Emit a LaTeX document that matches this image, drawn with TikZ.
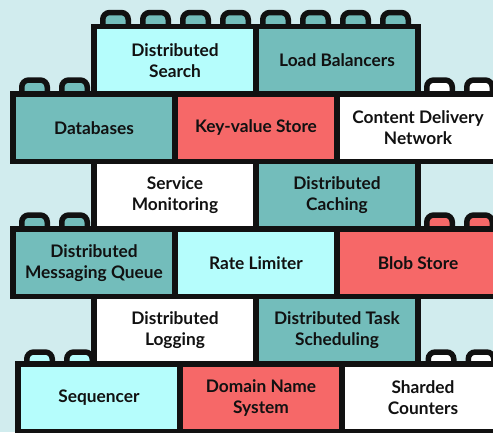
\documentclass[tikz,border=0pt]{standalone}
\usepackage{fontspec}
\setmainfont{Lato}
\definecolor{bg}{HTML}{D1ECEE}
\definecolor{ink}{HTML}{111111}
\definecolor{teal}{HTML}{73BDBB}
\definecolor{aqua}{HTML}{B5FDFC}
\definecolor{coral}{HTML}{F66868}
\begin{document}
\begin{tikzpicture}[x=1pt, y=-1pt,
  brick/.style={draw=ink, line width=5.5pt, minimum width=162pt, minimum height=67.5pt,
    inner sep=0pt, align=center, text=ink,
    font=\bfseries\fontsize{17.3}{21}\selectfont},
  stud/.style={draw=ink, line width=5.5pt, rounded corners=7pt}]
\clip (0,0) rectangle (493,432);
\fill[bg] (0,0) rectangle (493,432);

% studs on top of every brick row (drawn first, bricks cover their feet)
\foreach \x/\t/\h/\c in {
  115.5/26.5/14/teal, 155.5/26.5/14/teal, 195.5/26.5/14/teal, 235.5/26.5/14/teal,
  275.5/26.5/14/teal, 315.5/26.5/14/teal, 355.5/26.5/14/teal, 395.5/26.5/14/teal,
  34.5/94/14/teal, 74.5/94/14/teal, 439.5/94/14/white, 479.5/94/14/white,
  34.5/229/14/teal, 74.5/229/14/teal, 439.5/229/14/coral, 479.5/229/14/coral,
  39.5/364/12/aqua, 79.5/364/12/aqua, 441/364/12/white, 481/364/12/white}
  \draw[stud, fill=\c] (\x-12.75,\t+3) -- (\x-12.75,\t-\h) -- (\x+12.75,\t-\h) -- (\x+12.75,\t+3);

% row 1
\node[brick, fill=aqua] (search) at (175,60.25) {Distributed\\Search};
\node[brick, fill=teal] (lb) at (337,60.25) {Load Balancers};
% row 2
\node[brick, fill=teal] (db) at (94,127.75) {Databases};
\node[brick, fill=coral] (kv) at (256,127.75) {Key-value Store};
\node[brick, fill=white] (cdn) at (418,127.75) {Content Delivery\\Network};
% row 3
\node[brick, fill=white] (mon) at (175,195.25) {Service\\Monitoring};
\node[brick, fill=teal] (cache) at (337,195.25) {Distributed\\Caching};
% row 4
\node[brick, fill=teal] (mq) at (94,262.75) {Distributed\\Messaging Queue};
\node[brick, fill=aqua] (rl) at (256,262.75) {Rate Limiter};
\node[brick, fill=coral] (blob) at (418,262.75) {Blob Store};
% row 5
\node[brick, fill=white] (log) at (175,330.25) {Distributed\\Logging};
\node[brick, fill=teal] (task) at (337,330.25) {Distributed Task\\Scheduling};
% row 6
\node[brick, fill=aqua] (seq) at (99,397.75) {Sequencer};
\node[brick, fill=coral] (dns) at (261,397.75) {Domain Name\\System};
\node[brick, fill=white] (cnt) at (423,397.75) {Sharded\\Counters};
\end{tikzpicture}
\end{document}
